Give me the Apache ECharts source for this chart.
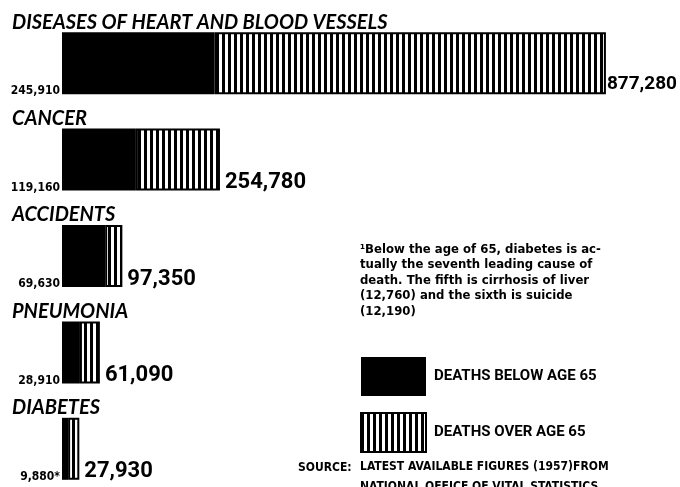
<!DOCTYPE html>
<html><head><meta charset="utf-8">
<script src="https://cdn.jsdelivr.net/npm/echarts@6/dist/echarts.min.js"></script>
<style>html,body{margin:0;padding:0;background:#fff}#c{width:680px;height:487px}</style>
</head><body><div id="c"></div>
<script>
const categories = ['DISEASES OF HEART AND BLOOD VESSELS','CANCER','ACCIDENTS','PNEUMONIA','DIABETES'];
const deathsBelow65 = [245910, 119160, 69630, 28910, 9880];
const totalDeaths = [877280, 254780, 97350, 61090, 27930];
const belowLabels = ['245,910','119,160','69,630','28,910','9,880*'];
const totalLabels = ['877,280','254,780','97,350','61,090','27,930'];
const footnoteLines = ['\u00b9Below the age of 65, diabetes is ac-','tually the seventh leading cause of','death. The fifth is cirrhosis of liver','(12,760) and the sixth is suicide','(12,190)'];

const deathsOver65 = totalDeaths.map((t,i)=>t-deathsBelow65[i]);

// stripe pattern
const pc = document.createElement('canvas');
pc.width = 6; pc.height = 6;
const px = pc.getContext('2d');
px.fillStyle = '#fff'; px.fillRect(0,0,6,6);
px.fillStyle = '#000'; px.fillRect(0,0,3,6);
const stripe = {image: pc, repeat: 'repeat'};

const NUM = 'Roboto,"DejaVu Sans",sans-serif';
const TXT = '"DejaVu Sans Condensed","DejaVu Sans",sans-serif';

const chart = echarts.init(document.getElementById('c'), null, {renderer:'canvas'});
chart.setOption({
  animation:false,
  backgroundColor:'#fff',
  grid:{left:62, top:15, width:620, height:482, containLabel:false, outerBoundsMode:'none'},
  xAxis:{type:'value', min:0, max:1000000, show:false},
  yAxis:{type:'category', data:categories, inverse:true,
    axisLine:{show:false}, axisTick:{show:false},
    axisLabel:{align:'left', margin:50, verticalAlign:'bottom', padding:[0,0,31,0],
      fontFamily:'Lato,"DejaVu Sans",sans-serif', fontWeight:'bold', fontStyle:'italic', fontSize:20, color:'#000'}},
  legend:{show:true, orient:'vertical', left:355, top:352, itemWidth:65, itemHeight:39, itemGap:16, icon:'rect',
    data:['DEATHS BELOW AGE 65','DEATHS OVER AGE 65'],
    textStyle:{fontFamily:NUM, fontWeight:'bold', fontSize:15, color:'#000', padding:[0,0,0,3]}},
  series:[
    {name:'DEATHS BELOW AGE 65', type:'bar', stack:'d', barWidth:62, data:deathsBelow65,
      itemStyle:{color:'#000'},
      label:{show:true, position:[0,'100%'], align:'right', verticalAlign:'bottom', offset:[-2,3],
        formatter:p=>belowLabels[p.dataIndex], fontFamily:TXT, fontWeight:'bold', fontSize:12, color:'#000'}},
    {name:'DEATHS OVER AGE 65', type:'bar', stack:'d', barWidth:62,
      data:deathsOver65.map((v,i)=>i===0?{value:v,label:{fontSize:19,offset:[1,0]}}:v),
      itemStyle:{color:stripe, borderColor:'#000', borderWidth:2},
      label:{show:true, position:['100%','100%'], align:'left', verticalAlign:'bottom', offset:[5,3],
        formatter:p=>totalLabels[p.dataIndex], fontFamily:NUM, fontWeight:'bold', fontSize:22, color:'#000'}}
  ],
  graphic:[
    ...footnoteLines.map((t,i)=>({type:'text', left:360, top:243+i*15.5,
      style:{text:t, font:'bold 13px '+TXT, fill:'#000'}})),
    {type:'text', left:298, top:462, style:{text:'SOURCE:', font:'bold 12px '+TXT, fill:'#000'}},
    {type:'text', left:360, top:461, style:{text:'LATEST AVAILABLE FIGURES (1957)FROM', font:'bold 12px '+TXT, fill:'#000'}},
    {type:'text', left:360, top:481, style:{text:'NATIONAL OFFICE OF VITAL STATISTICS', font:'bold 12px '+TXT, fill:'#000'}}
  ]
});
</script></body></html>
